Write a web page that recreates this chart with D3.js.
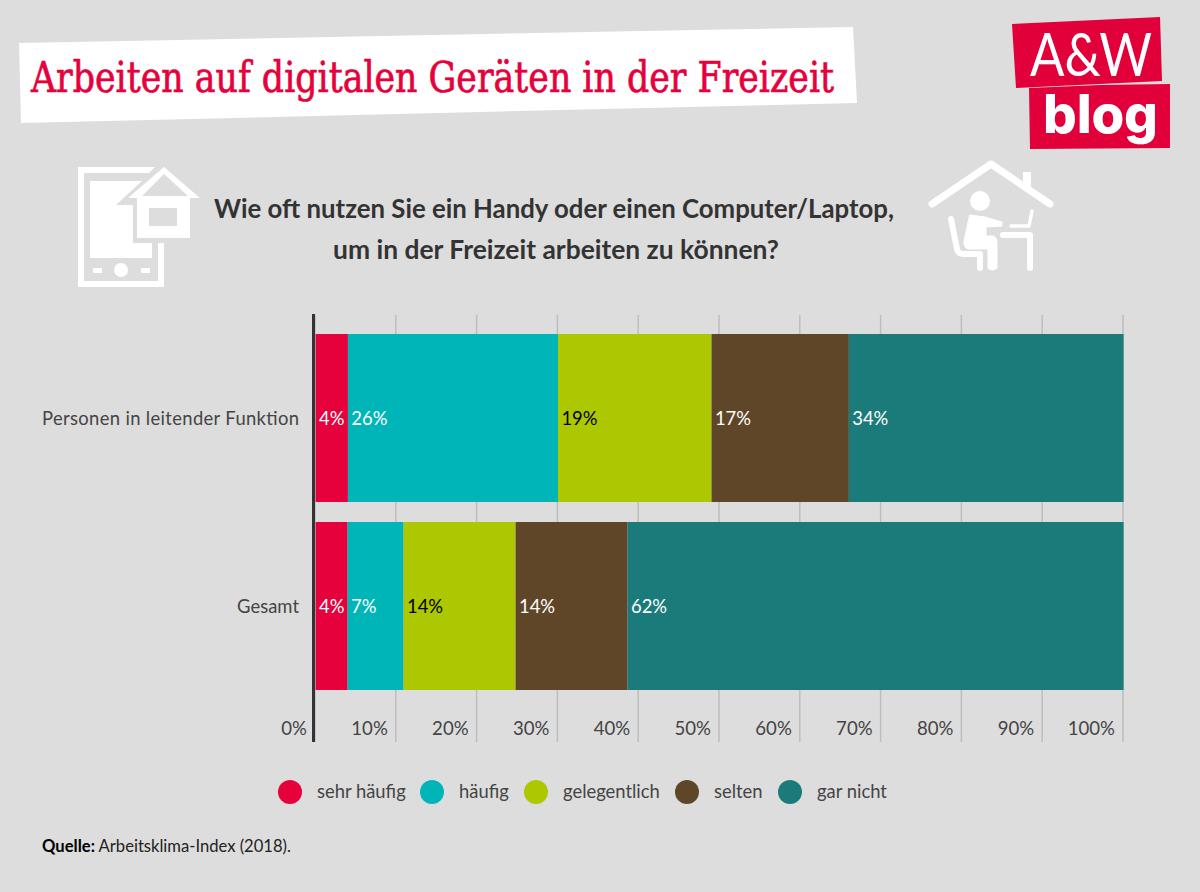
<!DOCTYPE html>
<html><head><meta charset="utf-8">
<script src="https://cdn.jsdelivr.net/npm/d3@7"></script>
<style>html,body{margin:0;padding:0;background:#dddddd}svg{display:block}text{font-family:Lato,"Noto Sans",sans-serif}</style>
</head><body><svg id="c" width="1200" height="892"></svg>
<script>
const categories = ["Personen in leitender Funktion", "Gesamt"];
const seriesNames = ["sehr häufig", "häufig", "gelegentlich", "selten", "gar nicht"];
const seriesColors = ["#e6003c", "#00b5b8", "#adc800", "#604628", "#1b7b7a"];
const labelColors = ["#fff", "#fff", "#000", "#fff", "#fff"];
const leitend = [4, 26, 19, 17, 34];
const gesamt = [4, 7, 14, 14, 62];
const tickValues = [0, .1, .2, .3, .4, .5, .6, .7, .8, .9, 1];
const legendX = [290, 432, 536, 687, 790];

const svg = d3.select("#c");
svg.append("rect").attr("width", 1200).attr("height", 892).attr("fill", "#dddddd");

// Title
svg.append("polygon").attr("points", "19,43 853,27 857,103 21,123").attr("fill", "#fff");
svg.append("text").text("Arbeiten auf digitalen Geräten in der Freizeit")
  .attr("x", 31).attr("y", 92).attr("textLength", 803).attr("lengthAdjust", "spacingAndGlyphs")
  .style("font-family", "'DejaVu Serif'").style("font-size", "42px")
  .attr("fill", "#e6003c").attr("stroke", "#e6003c").attr("stroke-width", 0.7);

// Logo
svg.append("polygon").attr("points", "1012,24 1160,17 1162,81 1016,88").attr("fill", "#e2003a");
svg.append("polygon").attr("points", "1029,88 1100,85 1170,84 1170,148 1030,149").attr("fill", "#e2003a");
svg.append("text").text("A&W").attr("x", 1030).attr("y", 76).attr("textLength", 122).attr("lengthAdjust", "spacingAndGlyphs")
  .style("font-size", "60px").style("font-weight", 400).attr("fill", "#fff");
svg.append("text").text("blog").attr("x", 1043).attr("y", 133).attr("textLength", 115)
  .style("font-family", "Inter").style("font-size", "53px").style("font-weight", 800).attr("fill", "#fff");

// Question
const q = svg.append("g").attr("text-anchor", "middle").style("font-size", "26px").style("font-weight", 700).attr("fill", "#333");
q.append("text").text("Wie oft nutzen Sie ein Handy oder einen Computer/Laptop,").attr("x", 554).attr("y", 218).attr("textLength", 680).attr("lengthAdjust", "spacingAndGlyphs");
q.append("text").text("um in der Freizeit arbeiten zu können?").attr("x", 556).attr("y", 259).attr("textLength", 446).attr("lengthAdjust", "spacingAndGlyphs");

// Tablet icon
const ic = svg.append("g").attr("fill", "#fff");
ic.append("path").attr("d", "M78,167H155L149,173H84V281H158V243H164V287H78Z");
ic.append("path").attr("d", "M90,181H142L116,205H133V243H152V258H90Z");
ic.append("circle").attr("cx", 121).attr("cy", 270).attr("r", 7);
ic.append("rect").attr("x", 93).attr("y", 268).attr("width", 9).attr("height", 5);
ic.append("rect").attr("x", 141).attr("y", 268).attr("width", 9).attr("height", 5);
ic.append("path").attr("fill-rule", "evenodd").attr("d",
  "M164,167L200,198H190V238H137V198H128Z M164,174L142,196H188Z M149,208V226H177V208Z");

// Home office icon
const h = svg.append("g").attr("fill", "none").attr("stroke", "#fff").attr("stroke-linecap", "round").attr("stroke-linejoin", "round");
h.append("path").attr("stroke-width", 7).attr("d", "M932,204L991,164L1050,204");
h.append("path").attr("stroke-width", 8).attr("stroke-linecap", "butt").attr("d", "M1027,172V190");
h.append("circle").attr("cx", 980).attr("cy", 201).attr("r", 10).attr("fill", "#fff").attr("stroke", "none");
h.append("path").attr("stroke-width", 6).attr("d", "M951,219L957,249Q958,254 964,254H980V268");
h.append("path").attr("fill", "#fff").attr("stroke-width", 1).attr("d",
  "M970,215L985,217L1002,222V226L986,227V236H993Q997,237 997,243V268Q992,272 988,268V249H969Q963,248 964,241Z");
h.append("path").attr("stroke-width", 3.5).attr("d", "M1011,226H1029L1032,211");
h.append("path").attr("stroke-width", 6).attr("d", "M1003,235H1030V268");

// Chart
const x = d3.scaleLinear().domain([0, 1]).range([315, 1123]);
const y = d3.scaleBand().domain(categories).range([334, 690]).paddingInner(20 / 188);
const rows = [leitend, gesamt].map((v, i) => {
  const o = {cat: categories[i]};
  seriesNames.forEach((s, j) => o[s] = v[j]);
  return o;
});
const stacked = d3.stack().keys(seriesNames).offset(d3.stackOffsetExpand)(rows);

const xAxis = d3.axisBottom(x).tickValues(tickValues).tickFormat(d3.format(".0%")).tickSize(-427).tickPadding(-20).offset(0);
const gx = svg.append("g").attr("transform", "translate(0,742)").call(xAxis);
gx.select(".domain").remove();
gx.selectAll("line").attr("stroke", "#bdbdbd").attr("stroke-width", 1.5);
gx.selectAll("text").attr("text-anchor", "end").attr("dx", -8).attr("fill", "#444").style("font-size", "18.6px");

svg.append("g").attr("transform", "translate(0.6,0)").selectAll("g").data(stacked).join("g").attr("fill", (d, i) => seriesColors[i])
  .selectAll("rect").data(d => d).join("rect")
  .attr("x", d => x(d[0])).attr("width", d => x(d[1]) - x(d[0]))
  .attr("y", d => y(d.data.cat)).attr("height", y.bandwidth());

const values = [leitend, gesamt];
svg.append("g").selectAll("g").data(stacked).join("g").attr("fill", (d, i) => labelColors[i])
  .each(function (s, j) {
    d3.select(this).selectAll("text").data(s).join("text")
      .text((d, i) => values[i][j] + "%")
      .attr("x", d => x(d[0]) + 4).attr("y", d => y(d.data.cat) + y.bandwidth() / 2 + 7)
      .style("font-size", "18.4px");
  });

svg.append("line").attr("x1", 313.5).attr("x2", 313.5).attr("y1", 314).attr("y2", 742).attr("stroke", "#333").attr("stroke-width", 3);

const gy = svg.append("g").attr("transform", "translate(299,0)").call(d3.axisLeft(y).tickSize(0).tickPadding(0).offset(0));
gy.select(".domain").remove();
gy.selectAll("text").attr("fill", "#444").attr("dy", "0.37em").style("font-size", "18.4px")
  .attr("textLength", d => d === categories[0] ? 257 : 62);

// Legend
const lg = svg.append("g").selectAll("g").data(seriesNames).join("g")
  .attr("transform", (d, i) => `translate(${legendX[i]},792)`);
lg.append("circle").attr("r", 12).attr("fill", (d, i) => seriesColors[i]);
lg.append("text").text(d => d).attr("x", 27).attr("y", 6).attr("fill", "#444").style("font-size", "18.4px");

// Source
const src = svg.append("text").attr("x", 42).attr("y", 852).style("font-size", "16.6px").attr("fill", "#222");
src.append("tspan").text("Quelle:").style("font-weight", 700).attr("fill", "#000");
src.append("tspan").text(" Arbeitsklima-Index (2018).");
</script></body></html>
